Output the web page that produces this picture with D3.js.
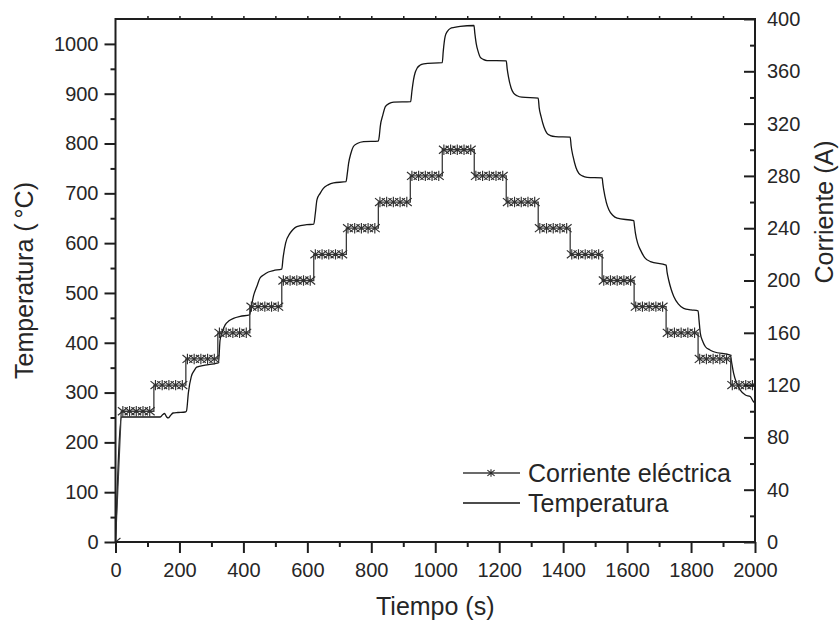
<!DOCTYPE html>
<html>
<head>
<meta charset="utf-8">
<script src="https://cdn.jsdelivr.net/npm/d3@7"></script>
<style>
  html, body { margin: 0; padding: 0; background: #fff; }
  svg { display: block; }
  text { font-family: "Liberation Sans", Arial, Helvetica, sans-serif; fill: #262626; }
</style>
</head>
<body>
<svg id="chart" width="839" height="623"></svg>
<script>
// ---------------- data ----------------
// Current steps: start time (s) and level (A); last step ends at 2000 s
const currentStarts = [18, 120, 220, 320, 420, 520, 620, 722, 822, 922, 1022, 1122, 1222, 1322, 1422, 1522, 1622, 1722, 1822, 1924];
const currentLevels = [100, 120, 140, 160, 180, 200, 220, 240, 260, 280, 300, 280, 260, 240, 220, 200, 180, 160, 140, 120];
const currentEnd = 2000;
const markerOffsets = [5, 26, 47, 68, 89];   // sample times within each step (s)

// Temperature (°C): [time s, temperature]
const tempTimes = [0, 19, 60, 100, 140, 148, 153, 160, 165, 172, 180, 195, 218,
  222, 228, 237, 246, 254, 280, 317, 322,
  327, 334, 343, 355, 369, 390, 419,
  424, 432, 442, 452, 463, 478, 494, 520,
  524, 532, 546, 556, 567, 598, 620,
  625, 630, 640, 650, 665, 682, 721,
  725, 729, 736, 744, 756, 776, 822,
  825, 828, 836, 844, 855, 870, 923,
  927, 932, 937, 943, 952, 964, 1022,
  1025, 1031, 1038, 1047, 1060, 1078, 1121,
  1124, 1128, 1134, 1141, 1150, 1162, 1222,
  1225, 1229, 1237, 1245, 1256, 1271, 1322,
  1325, 1331, 1340, 1349, 1360, 1376, 1422,
  1425, 1431, 1440, 1449, 1460, 1475, 1522,
  1524, 1527, 1535, 1543, 1555, 1569, 1621,
  1623, 1626, 1634, 1642, 1655, 1673, 1722,
  1725, 1730, 1738, 1746, 1760, 1777, 1800, 1822,
  1825, 1829, 1837, 1845, 1858, 1871, 1923,
  1927, 1933, 1943, 1954, 1970, 1985, 1995, 2000];
const tempValues = [0, 251, 251, 251, 251, 256, 258, 251, 249, 254, 259, 260, 261,
  263, 300, 332, 344, 351, 355, 359, 360,
  405, 422, 436, 444, 449, 453, 456,
  470, 495, 513, 530, 536, 542, 545, 548,
  570, 600, 620, 628, 633, 637, 638,
  660, 687, 700, 710, 717, 721, 723.5,
  740, 760, 780, 794, 800, 804, 805,
  815, 834, 857, 874, 880, 883, 884,
  905, 928, 942, 951, 957, 960, 962.5,
  985, 1015, 1025, 1031, 1033, 1035, 1037,
  1020, 1001, 985, 973, 969, 966.5, 966,
  950, 934, 912, 901, 896, 893, 891,
  872, 854, 833, 821, 816, 814, 813,
  795, 774, 752, 740, 735, 732, 731,
  720, 707, 682, 667, 656, 650, 645,
  635, 620, 598, 586, 571, 563, 556,
  542, 526, 507, 493, 478, 469, 466, 464,
  445, 419, 402, 392, 386, 382, 375,
  360, 339, 318, 305, 295, 292, 282, 279];

const xTicks = [0, 200, 400, 600, 800, 1000, 1200, 1400, 1600, 1800, 2000];
const xMinor = [100, 300, 500, 700, 900, 1100, 1300, 1500, 1700, 1900];
const xTop = [100, 200, 300, 400, 500, 600, 700, 800, 900, 1000, 1100, 1200, 1300, 1400, 1500, 1600, 1700, 1800, 1900];
const tTicks = [0, 100, 200, 300, 400, 500, 600, 700, 800, 900, 1000];
const tMinor = [50, 150, 250, 350, 450, 550, 650, 750, 850, 950];
const cTicks = [0, 40, 80, 120, 160, 200, 240, 280, 320, 360, 400];
const cMinor = [20, 60, 100, 140, 180, 220, 260, 300, 340, 380];

const legendLabels = ["Corriente eléctrica", "Temperatura"];

// ---------------- chart ----------------
const svg = d3.select("#chart");
const L = 115.5, R = 755, T = 19, B = 542;

const x = d3.scaleLinear().domain([0, 2000]).range([L, R]);
const yT = d3.scaleLinear().domain([0, 1050]).range([B, T]);
const yC = d3.scaleLinear().domain([0, 400]).range([B, T]);

svg.append("defs").append("clipPath").attr("id", "plotclip")
  .append("rect").attr("x", L).attr("y", T).attr("width", R - L).attr("height", B - T);

const plot = svg.append("g").attr("clip-path", "url(#plotclip)");

// temperature line
const tempData = tempTimes.map((t, i) => [t, tempValues[i]]);
plot.append("path")
  .datum(tempData)
  .attr("fill", "none")
  .attr("stroke", "#151515")
  .attr("stroke-width", 1.3)
  .attr("d", d3.line().x(d => x(d[0])).y(d => yT(d[1])).curve(d3.curveMonotoneX));

// current step line
const curPts = [[0, 0]];
currentStarts.forEach((s, i) => {
  const e = i < currentStarts.length - 1 ? currentStarts[i + 1] : currentEnd;
  curPts.push([s, currentLevels[i]]);
  curPts.push([e, currentLevels[i]]);
});
plot.append("path")
  .datum(curPts)
  .attr("fill", "none")
  .attr("stroke", "#3a3a3a")
  .attr("stroke-width", 1.3)
  .attr("d", d3.line().x(d => x(d[0])).y(d => yC(d[1])));

// markers
const markers = [[0, 0]];
currentStarts.forEach((s, i) => {
  const e = i < currentStarts.length - 1 ? currentStarts[i + 1] : currentEnd;
  markerOffsets.forEach(o => { if (s + o <= e) markers.push([s + o, currentLevels[i]]); });
});
function starPath(r, k) {
  const d = r * k;
  return `M0,${-r}L0,${r}M${-d},${-d * 0.8}L${d},${d * 0.8}M${-d},${d * 0.8}L${d},${-d * 0.8}`;
}
plot.selectAll("path.star").data(markers).join("path")
  .attr("class", "star")
  .attr("transform", d => `translate(${x(d[0])},${yC(d[1])})`)
  .attr("d", starPath(5.2, 0.95))
  .attr("fill", "none")
  .attr("stroke", "#303030")
  .attr("stroke-width", 1.15);

// ---------------- axes ----------------
function styleAxis(g) {
  g.select(".domain").remove();
  g.selectAll(".tick line").attr("stroke", "#1e1e1e").attr("stroke-width", 2);
  g.selectAll(".tick text").attr("font-size", 20).attr("fill", "#262626")
    .attr("font-family", '"Liberation Sans", Arial, sans-serif');
}

// bottom
svg.append("g").attr("transform", `translate(0,${B})`)
  .call(d3.axisBottom(x).tickValues(xTicks).tickSize(11).tickPadding(10).tickFormat(d3.format("d")))
  .call(styleAxis);
svg.append("g").attr("transform", `translate(0,${B})`)
  .call(d3.axisBottom(x).tickValues(xMinor).tickSize(5).tickFormat(""))
  .call(styleAxis);
// top tiny ticks
svg.append("g").attr("transform", `translate(0,${T})`)
  .call(d3.axisTop(x).tickValues(xTop).tickSize(3).tickFormat(""))
  .call(styleAxis)
  .call(g => g.selectAll(".tick line").attr("stroke-width", 1.5));

// left
svg.append("g").attr("transform", `translate(${L},0)`)
  .call(d3.axisLeft(yT).tickValues(tTicks).tickSize(11).tickPadding(6).tickFormat(d3.format("d")))
  .call(styleAxis);
svg.append("g").attr("transform", `translate(${L},0)`)
  .call(d3.axisLeft(yT).tickValues(tMinor).tickSize(5).tickFormat(""))
  .call(styleAxis);

// right (ticks inward)
svg.append("g").attr("transform", `translate(${R},0)`)
  .call(d3.axisRight(yC).tickValues(cTicks).tickSize(-11).tickPadding(12).tickFormat(d3.format("d")))
  .call(styleAxis);
svg.append("g").attr("transform", `translate(${R},0)`)
  .call(d3.axisRight(yC).tickValues(cMinor).tickSize(-5).tickFormat(""))
  .call(styleAxis);

// frame
svg.append("rect")
  .attr("x", L).attr("y", T).attr("width", R - L).attr("height", B - T)
  .attr("fill", "none").attr("stroke", "#1e1e1e").attr("stroke-width", 2);

// axis titles
svg.append("text")
  .attr("x", (L + R) / 2).attr("y", 615)
  .attr("text-anchor", "middle").attr("font-size", 25)
  .text("Tiempo (s)");

const lt = svg.append("text")
  .attr("transform", `translate(33,${(T + B) / 2}) rotate(-90)`)
  .attr("text-anchor", "middle").attr("font-size", 25);
lt.append("tspan").text("Temperatura (");
lt.append("tspan").attr("dx", 5).text("°C)");

svg.append("text")
  .attr("transform", `translate(833,212) rotate(-90)`)
  .attr("text-anchor", "middle").attr("font-size", 25)
  .text("Corriente (A)");

// legend
const leg = svg.append("g");
leg.append("line").attr("x1", 463).attr("x2", 520).attr("y1", 473).attr("y2", 473)
  .attr("stroke", "#3a3a3a").attr("stroke-width", 1.3);
leg.append("path").attr("transform", "translate(491,473)").attr("d", starPath(3.8, 0.95))
  .attr("fill", "none").attr("stroke", "#2a2a2a").attr("stroke-width", 1.1);
leg.append("text").attr("x", 528).attr("y", 482).attr("font-size", 25).text(legendLabels[0]);
leg.append("line").attr("x1", 463).attr("x2", 520).attr("y1", 503).attr("y2", 503)
  .attr("stroke", "#111").attr("stroke-width", 1.3);
leg.append("text").attr("x", 528).attr("y", 512).attr("font-size", 25).text(legendLabels[1]);
</script>
</body>
</html>
